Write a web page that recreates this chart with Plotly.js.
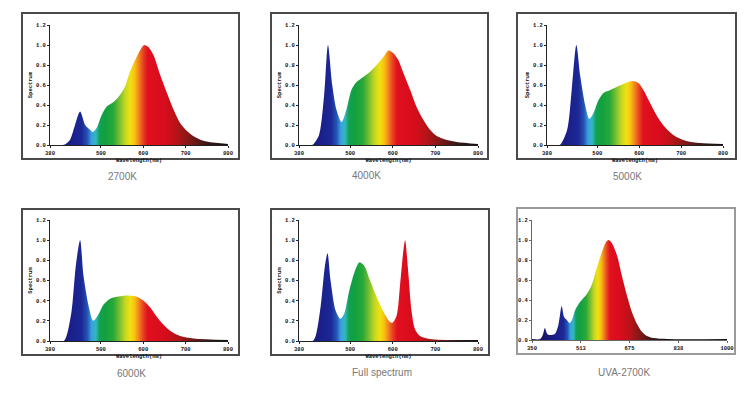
<!DOCTYPE html>
<html>
<head>
<meta charset="utf-8">
<script src="https://cdn.plot.ly/plotly-3.0.1.min.js"></script>
<style>html,body{margin:0;padding:0;background:#fff;}#chart{width:752px;height:399px;}</style>
</head>
<body>
<div id="chart"></div>
<script>
// ---- data ----
const panelNames = ['2700K', '4000K', '5000K', '6000K', 'Full spectrum', 'UVA-2700K'];

const wl2700 = [380,410,415,427,439,451,463,475,481,490,502,514,530,545,557,569,581,593,602,612,624,640,656,672,687,703,719,735,758,782,800];
const sp2700 = [0,0,0.005,0.05,0.2,0.335,0.2,0.15,0.13,0.17,0.3,0.385,0.43,0.5,0.585,0.735,0.85,0.95,1.0,0.98,0.9,0.7,0.52,0.35,0.22,0.14,0.087,0.053,0.027,0.017,0.01];

const wl4000 = [380,408,413,427,439,448,458,468,480,491,503,515,531,546,562,578,590,601,613,625,641,656,672,688,703,727,750,800];
const sp4000 = [0,0,0.005,0.1,0.5,1.0,0.6,0.35,0.23,0.35,0.55,0.63,0.68,0.73,0.8,0.88,0.945,0.92,0.85,0.72,0.55,0.38,0.25,0.15,0.09,0.05,0.03,0.01];

const wl5000 = [380,407,412,428,439,450,459,471,481,491,503,515,531,546,562,578,586,598,610,626,641,657,673,689,713,745,800];
const sp5000 = [0,0,0.005,0.15,0.55,1.0,0.7,0.4,0.26,0.32,0.45,0.52,0.55,0.58,0.61,0.635,0.64,0.62,0.55,0.42,0.3,0.2,0.13,0.08,0.04,0.02,0.01];

const wl6000 = [380,412,419,431,441,451,459,471,482,494,506,522,538,554,569,585,601,617,632,648,664,687,719,800];
const sp6000 = [0,0,0.05,0.3,0.75,1.0,0.65,0.35,0.2,0.26,0.36,0.42,0.44,0.45,0.45,0.44,0.4,0.33,0.24,0.16,0.1,0.05,0.025,0.01];

const wlFull = [380,412,419,431,441,447,454,466,477,486,498,510,522,534,545,561,577,593,599,609,617,625,629,636,644,652,664,687,800];
const spFull = [0,0,0.05,0.35,0.75,0.87,0.6,0.3,0.22,0.27,0.5,0.68,0.78,0.74,0.62,0.45,0.3,0.19,0.18,0.25,0.55,0.9,1.0,0.7,0.3,0.12,0.05,0.02,0.01];

const wlUva = [350,377,386,393,401,410,426,438,449,457,466,475,483,494,510,533,549,566,583,597,605,616,633,649,666,683,700,717,733,755,800,1000];
const spUva = [0.01,0.01,0.05,0.12,0.06,0.05,0.06,0.15,0.34,0.23,0.2,0.17,0.2,0.3,0.38,0.46,0.55,0.72,0.88,0.98,1.0,0.97,0.85,0.65,0.45,0.28,0.16,0.08,0.04,0.02,0.01,0.01];

const visTickVals = [380, 500, 600, 700, 800];
const uvaTickVals = [350, 513, 675, 838, 1000];
const yTickVals = [0, 0.2, 0.4, 0.6, 0.8, 1.0, 1.2];

// wavelength -> colour stops
const colorNm = [380,430,455,468,478,488,497,510,530,545,558,570,580,590,600,610,650,680,710,750,800];
const colorHex = ['#16165e','#1a1f8a','#1c2896','#2454b4','#3aa0e0','#30b8c0','#14a050','#10a040','#2aa838','#7cc030','#c8d820','#f2e010','#f8c010','#f08020','#e84020','#e01020','#d80c1c','#b41418','#801818','#3a1818','#101010'];

function scaleFor(lo, hi) {
  const cs = [[0, colorHex[0]]];
  for (let i = 0; i < colorNm.length; i++) {
    const f = (colorNm[i] - lo) / (hi - lo);
    if (f > 0 && f < 1) cs.push([f, colorHex[i]]);
  }
  cs.push([1, colorHex[colorHex.length - 1]]);
  return cs;
}

const series = [
  {x: wl2700, y: sp2700, lo: 380, hi: 800},
  {x: wl4000, y: sp4000, lo: 380, hi: 800},
  {x: wl5000, y: sp5000, lo: 380, hi: 800},
  {x: wl6000, y: sp6000, lo: 380, hi: 800},
  {x: wlFull, y: spFull, lo: 380, hi: 800},
  {x: wlUva, y: spUva, lo: 350, hi: 1000}
];

// ---- geometry (pixels) ----
const W = 752, H = 399;
const plotBoxes = [
  [50, 228, 25, 145], [299, 478, 25, 145], [547, 723, 25, 145],
  [50, 228, 220, 341], [299, 478, 220, 341], [532, 727, 220, 340]
];
const frames = [
  [22, 239, 13, 159, '#4a4a4a'], [271, 488, 13, 159, '#4a4a4a'], [517, 736, 13, 159, '#4a4a4a'],
  [22, 239, 209, 355, '#4a4a4a'], [271, 489, 209, 355, '#4a4a4a'], [517, 735, 208, 354, '#9a9a9a']
];
const axisColors = ['#222', '#222', '#222', '#222', '#222', '#666'];
const labelPos = [[122, 176], [366, 175], [627, 176], [131, 373], [382, 372], [624, 372]];

const tickFont = {family: 'Liberation Mono, Courier New, monospace', size: 5.5, color: '#111', weight: 'bold'};
const titleFont = {family: 'Liberation Mono, Courier New, monospace', size: 5.5, color: '#111', weight: 'bold'};

const traces = [];
const layout = {
  width: W, height: H,
  margin: {l: 0, r: 0, t: 0, b: 0},
  paper_bgcolor: '#fff', plot_bgcolor: '#fff',
  showlegend: false,
  shapes: [], annotations: []
};

series.forEach((s, i) => {
  const n = i === 0 ? '' : String(i + 1);
  traces.push({
    type: 'scatter', mode: 'lines',
    x: s.x, y: s.y,
    xaxis: 'x' + n, yaxis: 'y' + n,
    line: {width: 0, shape: 'spline', smoothing: 0.8, color: 'rgba(0,0,0,0)'},
    fill: 'tozeroy',
    fillgradient: {type: 'horizontal', colorscale: scaleFor(s.lo, s.hi), start: s.lo, stop: s.hi},
    hoverinfo: 'skip'
  });
  const b = plotBoxes[i];
  const isUva = i === 5;
  const ac = axisColors[i];
  layout['xaxis' + n] = {
    domain: [b[0] / W, b[1] / W],
    anchor: 'y' + n,
    range: [s.lo, s.hi],
    tickmode: 'array',
    tickvals: isUva ? uvaTickVals : visTickVals,
    ticktext: (isUva ? uvaTickVals : visTickVals).map(String),
    showline: true, linecolor: ac, linewidth: 1,
    ticks: 'outside', ticklen: 2, tickwidth: 1, tickcolor: ac,
    showgrid: false, zeroline: false,
    tickfont: tickFont,
    title: isUva ? {text: ''} : {text: 'Wavelength(nm)', font: titleFont, standoff: 1}
  };
  layout['yaxis' + n] = {
    domain: [1 - b[3] / H, 1 - b[2] / H],
    anchor: 'x' + n,
    range: [0, 1.2],
    tickmode: 'array',
    tickvals: yTickVals,
    ticktext: yTickVals.map(v => v.toFixed(1)),
    showline: true, linecolor: ac, linewidth: 1,
    ticks: 'outside', ticklen: 2, tickwidth: 1, tickcolor: ac,
    showgrid: false, zeroline: false,
    tickfont: tickFont,
    title: isUva ? {text: ''} : {text: 'Spectrum', font: titleFont, standoff: 3}
  };
  const f = frames[i];
  layout.shapes.push({
    type: 'rect', xref: 'paper', yref: 'paper',
    x0: f[0] / W, x1: f[1] / W, y0: 1 - f[3] / H, y1: 1 - f[2] / H,
    line: {color: f[4], width: 2}, fillcolor: 'rgba(0,0,0,0)'
  });
  const p = labelPos[i];
  layout.annotations.push({
    xref: 'paper', yref: 'paper',
    x: p[0] / W, y: 1 - p[1] / H,
    xanchor: 'center', yanchor: 'middle',
    text: panelNames[i], showarrow: false,
    font: {family: 'Liberation Sans, Arial, sans-serif', size: 10, color: '#777'}
  });
});

Plotly.newPlot('chart', traces, layout, {displayModeBar: false, staticPlot: true});
</script>
</body>
</html>
